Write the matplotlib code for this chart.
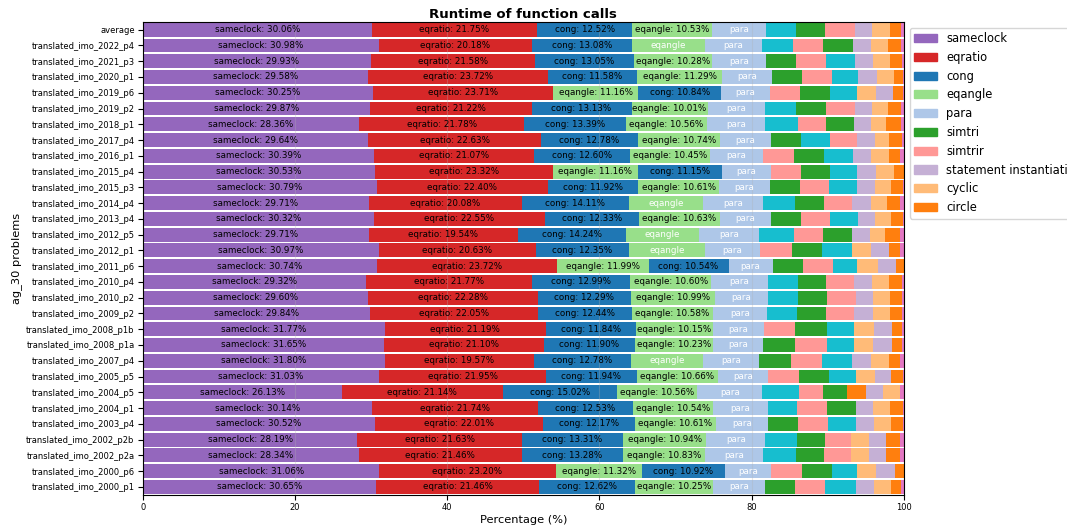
import matplotlib
matplotlib.use("Agg")
import matplotlib.pyplot as plt
import numpy as np

problems = [
    "average", "translated_imo_2022_p4", "translated_imo_2021_p3", "translated_imo_2020_p1",
    "translated_imo_2019_p6", "translated_imo_2019_p2", "translated_imo_2018_p1",
    "translated_imo_2017_p4", "translated_imo_2016_p1", "translated_imo_2015_p4",
    "translated_imo_2015_p3", "translated_imo_2014_p4", "translated_imo_2013_p4",
    "translated_imo_2012_p5", "translated_imo_2012_p1", "translated_imo_2011_p6",
    "translated_imo_2010_p4", "translated_imo_2010_p2", "translated_imo_2009_p2",
    "translated_imo_2008_p1b", "translated_imo_2008_p1a", "translated_imo_2007_p4",
    "translated_imo_2005_p5", "translated_imo_2004_p5", "translated_imo_2004_p1",
    "translated_imo_2003_p4", "translated_imo_2002_p2b", "translated_imo_2002_p2a",
    "translated_imo_2000_p6", "translated_imo_2000_p1",
]

sameclock = [30.06, 30.98, 29.93, 29.58, 30.25, 29.87, 28.36, 29.64, 30.39, 30.53,
             30.79, 29.71, 30.32, 29.71, 30.97, 30.74, 29.32, 29.60, 29.84, 31.77,
             31.65, 31.80, 31.03, 26.13, 30.14, 30.52, 28.19, 28.34, 31.06, 30.65]
eqratio = [21.75, 20.18, 21.58, 23.72, 23.71, 21.22, 21.78, 22.63, 21.07, 23.32,
           22.40, 20.08, 22.55, 19.54, 20.63, 23.72, 21.77, 22.28, 22.05, 21.19,
           21.10, 19.57, 21.95, 21.14, 21.74, 22.01, 21.63, 21.46, 23.20, 21.46]
cong = [12.52, 13.08, 13.05, 11.58, 10.84, 13.13, 13.39, 12.78, 12.60, 11.15,
        11.92, 14.11, 12.33, 14.24, 12.35, 10.54, 12.99, 12.29, 12.44, 11.84,
        11.90, 12.78, 11.94, 15.02, 12.53, 12.17, 13.31, 13.28, 10.92, 12.62]
eqangle = [10.53, 9.67, 10.28, 11.29, 11.16, 10.01, 10.56, 10.74, 10.45, 11.16,
           10.61, 9.75, 10.63, 9.59, 9.92, 11.99, 10.60, 10.99, 10.58, 10.15,
           10.23, 9.50, 10.66, 10.56, 10.54, 10.61, 10.94, 10.83, 11.32, 10.25]
para = [7.01, 7.44, 7.01, 6.50, 6.44, 7.52, 7.66, 6.74, 6.93, 6.37,
        6.68, 7.79, 6.66, 7.92, 7.22, 5.77, 7.42, 6.94, 7.14, 6.66,
        6.65, 7.31, 6.60, 8.55, 7.15, 6.79, 7.68, 7.62, 6.03, 6.77]
simtri = [3.89, 3.92, 3.96, 3.95, 3.92, 3.85, 3.68, 3.90, 3.90, 3.90,
          3.94, 3.81, 3.94, 3.76, 4.03, 4.02, 3.74, 3.83, 3.84, 4.10,
          4.20, 4.18, 3.97, 3.15, 3.83, 4.02, 3.63, 3.68, 4.03, 4.00]
simtrir = [3.86, 4.00, 3.92, 3.93, 3.96, 3.81, 3.72, 3.51, 4.16, 3.94,
           3.85, 3.76, 3.85, 3.81, 4.16, 3.94, 3.70, 3.79, 3.72, 4.14,
           4.12, 4.14, 4.00, 3.16, 3.87, 3.86, 3.50, 3.54, 4.07, 3.96]
statement_inst = [2.32, 2.46, 2.31, 2.41, 2.28, 2.28, 2.23, 2.40, 2.41, 2.40,
                  2.27, 2.41, 2.28, 2.37, 2.39, 2.41, 2.41, 2.32, 2.50, 2.41,
                  2.48, 2.54, 2.19, 2.20, 2.28, 2.36, 2.28, 2.23, 2.41, 2.38]
cyclic = [2.27, 2.23, 2.28, 2.28, 2.45, 2.10, 2.06, 1.88, 2.27, 2.37,
          2.19, 2.19, 2.10, 2.03, 2.42, 2.71, 2.14, 2.27, 2.27, 2.58,
          2.51, 2.27, 2.49, 2.18, 2.18, 2.32, 2.32, 2.37, 2.62, 2.34]
circle = [1.53, 1.62, 1.53, 1.22, 1.31, 1.74, 1.96, 1.76, 1.54, 1.31,
          1.53, 1.71, 1.53, 2.00, 1.50, 0.96, 1.80, 1.58, 1.58, 1.36,
          1.36, 1.45, 1.53, 2.54, 1.75, 1.53, 1.84, 1.93, 1.18, 1.32]
# two small functions that are drawn but not in the legend
other_a = [3.94, 4.03, 3.88, 3.50, 3.59, 4.15, 4.29, 3.85, 3.85, 3.55,
           3.73, 4.25, 3.72, 4.60, 3.98, 3.20, 3.94, 3.94, 3.87, 3.63,
           3.63, 3.94, 3.55, 4.85, 3.90, 3.72, 4.25, 4.29, 3.16, 3.95]
other_b = [0.31, 0.39, 0.27, 0.04, 0.09, 0.32, 0.31, 0.17, 0.43, 0.00,
           0.09, 0.43, 0.09, 0.43, 0.43, 0.00, 0.17, 0.17, 0.17, 0.25,
           0.17, 0.52, 0.09, 0.52, 0.09, 0.09, 0.43, 0.43, 0.00, 0.30]

names = ["sameclock", "eqratio", "cong", "eqangle", "para", "simtri", "simtrir",
         "statement instantiation", "cyclic", "circle", "other_a", "other_b"]
series = [sameclock, eqratio, cong, eqangle, para, simtri, simtrir,
          statement_inst, cyclic, circle, other_a, other_b]
colors = ["#9467bd", "#d62728", "#1f77b4", "#98df8a", "#aec7e8", "#2ca02c",
          "#ff9896", "#c5b0d5", "#ffbb78", "#ff7f0e", "#17becf", "#e377c2"]
n_legend = 10

data = np.array(series)

fig = plt.figure(figsize=(10.67, 5.32), dpi=100)
ax = fig.add_axes([0.134, 0.070, 0.713, 0.889])

for i in range(len(problems)):
    vals = data[:, i]
    order = np.argsort(-vals, kind="stable")
    left = 0.0
    for j in order:
        v = vals[j]
        ax.barh(i, v, left=left, height=0.88, color=colors[j])
        if v >= 10:
            ax.text(left + v / 2, i, f"{names[j]}: {v:.2f}%", ha="center", va="center",
                    fontsize=6.3, color="black")
        elif v >= 5:
            ax.text(left + v / 2, i, names[j], ha="center", va="center",
                    fontsize=6.3, color="white")
        left += v

ax.set_yticks(range(len(problems)))
ax.set_yticklabels(problems)
ax.set_ylim(len(problems) - 0.5, -0.5)
ax.set_xlim(0, 100)
ax.tick_params(axis="both", labelsize=6.0, pad=2.5)
ax.grid(axis="x", alpha=0.3)
ax.set_xlabel("Percentage (%)", fontsize=8.2, labelpad=2)
ax.set_ylabel("ag_30 problems", fontsize=8.2, labelpad=3)
ax.set_title("Runtime of function calls", fontsize=9.5, fontweight="bold", pad=3)

handles = [plt.Rectangle((0, 0), 1, 1, color=colors[k]) for k in range(n_legend)]
ax.legend(handles, names[:n_legend], loc="upper left", bbox_to_anchor=(1.0, 1.0),
          fontsize=8.3)

fig.savefig("out.png", dpi=100)
